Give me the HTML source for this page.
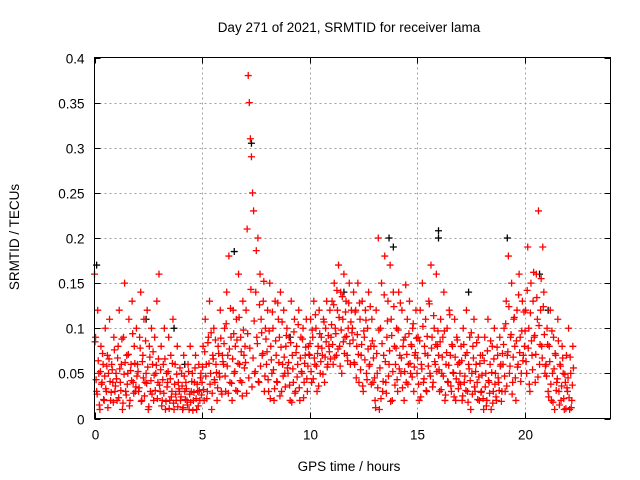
<!DOCTYPE html>
<html><head><meta charset="utf-8"><style>
body{margin:0;background:#fff}
svg{display:block;font-family:"Liberation Sans",sans-serif;font-size:13.5px}
</style></head><body>
<svg id="chart" width="640" height="480">
<text x="349" y="32" text-anchor="middle">Day 271 of 2021, SRMTID for receiver lama</text>
<text x="349" y="471" text-anchor="middle">GPS time / hours</text>
<text transform="translate(19,237) rotate(-90)" text-anchor="middle">SRMTID / TECUs</text>
<g id="grid"></g>
<g id="ticks"></g>
<g id="black"></g>
<g id="red"></g>
<rect x="94.5" y="57.5" width="516" height="361" fill="none" stroke="#000"/>
</svg>
<script>
const xTicks=[0,5,10,15,20];
const yTicks=[0,0.05,0.1,0.15,0.2,0.25,0.3,0.35,0.4];
const yTickLabels=["0","0.05","0.1","0.15","0.2","0.25","0.3","0.35","0.4"];
const redHourly=[
[.16,.09,.03,.12,.05,.01,.08,.04,.06,.02,.1,.03,.07,.05,.11,.02,.06,.04,.09,.03],
[.05,.02,.08,.12,.04,.06,.01,.09,.15,.03,.07,.05,.11,.02,.06,.13,.04,.08,.03,.1],
[.06,.03,.09,.14,.02,.07,.11,.04,.05,.12,.01,.08,.03,.1,.06,.02,.09,.05,.13,.04],
[.16,.03,.08,.02,.06,.1,.01,.05,.04,.09,.02,.07,.03,.11,.01,.06,.02,.08,.04,.03],
[.02,.05,.01,.07,.03,.04,.02,.06,.01,.08,.03,.05,.02,.04,.07,.01,.03,.06,.02,.05],
[.04,.08,.02,.11,.06,.03,.09,.13,.05,.01,.07,.1,.04,.06,.02,.08,.05,.12,.03,.07],
[.06,.1,.03,.14,.07,.18,.04,.09,.02,.12,.05,.08,.11,.03,.16,.06,.09,.04,.13,.07],
[.08,.12,.21,.38,.35,.31,.29,.25,.23,.05,.14,.09,.2,.04,.16,.11,.07,.13,.03,.1],
[.06,.12,.03,.15,.08,.05,.1,.02,.13,.07,.04,.11,.09,.14,.03,.06,.12,.05,.08,.1],
[.05,.09,.02,.13,.07,.04,.11,.03,.08,.06,.12,.02,.09,.05,.1,.04,.07,.11,.03,.08],
[.07,.11,.04,.09,.13,.06,.1,.03,.08,.12,.05,.09,.07,.11,.04,.1,.13,.06,.08,.12],
[.09,.13,.06,.15,.1,.07,.12,.17,.08,.14,.05,.11,.16,.09,.13,.07,.1,.15,.06,.12],
[.1,.14,.06,.12,.08,.15,.04,.11,.07,.13,.03,.09,.12,.05,.1,.14,.06,.08,.11,.04],
[.08,.02,.12,.05,.2,.01,.1,.15,.03,.07,.18,.04,.09,.13,.06,.17,.11,.02,.14,.08],
[.06,.1,.03,.14,.07,.05,.12,.08,.02,.09,.04,.11,.06,.13,.05,.08,.1,.03,.07,.12],
[.05,.09,.02,.12,.06,.15,.04,.08,.11,.03,.07,.13,.05,.17,.09,.04,.1,.06,.16,.08],
[.07,.03,.11,.05,.09,.14,.02,.06,.1,.04,.12,.07,.03,.08,.05,.11,.02,.09,.06,.04],
[.05,.08,.02,.1,.04,.07,.12,.03,.06,.09,.01,.05,.08,.11,.03,.06,.04,.09,.02,.07],
[.03,.07,.01,.09,.05,.02,.11,.04,.06,.01,.08,.03,.1,.05,.02,.07,.04,.09,.06,.03],
[.06,.1,.03,.13,.07,.18,.05,.09,.15,.04,.11,.08,.02,.12,.06,.16,.09,.05,.13,.07],
[.08,.12,.05,.19,.1,.03,.15,.07,.13,.09,.04,.16,.11,.23,.06,.12,.08,.19,.14,.05],
[.06,.1,.03,.08,.12,.02,.05,.09,.01,.07,.04,.11,.03,.06,.02,.08,.05,.01,.04,.07],
[.03,.1,.01,.05,.02,.08]
];
const redHourlyB=[
[.085,.043,.027,.064,.015,.052,.038,.072,.021,.047,.033,.058,.012,.066,.041,.029,.054,.018,.076,.036],
[.044,.067,.023,.055,.031,.088,.017,.049,.062,.026,.038,.071,.014,.053,.042,.094,.028,.061,.035,.047],
[.052,.034,.078,.019,.063,.045,.025,.086,.039,.057,.013,.068,.042,.027,.074,.048,.031,.059,.022,.066],
[.037,.054,.014,.043,.028,.066,.019,.035,.052,.011,.044,.024,.061,.017,.038,.027,.049,.013,.033,.056],
[.024,.036,.012,.047,.021,.033,.015,.052,.027,.018,.041,.009,.029,.056,.022,.038,.014,.031,.045,.026],
[.057,.032,.074,.047,.022,.084,.061,.038,.095,.028,.066,.043,.087,.051,.034,.072,.046,.089,.027,.063],
[.083,.047,.105,.058,.028,.077,.122,.039,.066,.094,.052,.031,.087,.061,.112,.042,.074,.025,.098,.056],
[.062,.028,.094,.045,.078,.143,.035,.067,.108,.052,.186,.083,.041,.126,.058,.095,.072,.152,.047,.088],
[.074,.043,.097,.022,.065,.118,.054,.033,.086,.041,.128,.062,.025,.079,.107,.047,.068,.035,.092,.056],
[.062,.037,.084,.018,.055,.096,.028,.073,.046,.104,.034,.067,.052,.088,.023,.061,.079,.044,.058,.071],
[.083,.052,.098,.044,.067,.115,.058,.072,.036,.094,.063,.078,.049,.107,.068,.085,.057,.092,.074,.066],
[.104,.082,.126,.068,.094,.142,.077,.112,.058,.098,.135,.085,.072,.118,.091,.064,.128,.083,.107,.095],
[.087,.062,.118,.045,.093,.071,.128,.054,.082,.036,.097,.065,.109,.043,.077,.058,.124,.038,.086,.067],
[.045,.012,.072,.034,.098,.056,.022,.083,.041,.137,.063,.028,.108,.047,.075,.019,.092,.052,.124,.037],
[.078,.043,.098,.055,.128,.067,.034,.087,.052,.148,.071,.038,.094,.061,.082,.046,.105,.057,.073,.089],
[.067,.038,.086,.024,.055,.102,.044,.072,.031,.091,.058,.127,.047,.078,.035,.114,.063,.082,.052,.097],
[.054,.085,.032,.068,.047,.097,.026,.073,.041,.059,.115,.036,.082,.051,.024,.068,.044,.087,.033,.062],
[.038,.064,.025,.082,.047,.031,.073,.018,.055,.042,.095,.027,.067,.035,.052,.084,.021,.046,.061,.029],
[.048,.022,.064,.035,.014,.075,.042,.028,.086,.051,.017,.066,.038,.024,.079,.045,.031,.058,.019,.072],
[.082,.047,.105,.036,.074,.124,.058,.093,.027,.068,.112,.045,.086,.057,.137,.073,.041,.097,.064,.118],
[.097,.063,.142,.078,.038,.117,.086,.054,.162,.092,.071,.134,.046,.103,.082,.155,.067,.124,.093,.058],
[.047,.082,.024,.063,.038,.097,.018,.055,.072,.031,.044,.086,.015,.058,.036,.067,.022,.049,.011,.034],
[.045,.023,.068,.012,.037,.056]
];
const blackHours=[0.1,2.4,4.2,6.5,7.3,9.1,11.6,13.7,13.9,16.0,16.0,17.4,19.2,20.7,21.1,3.7];
const blackValues=[0.17,0.11,0.06,0.185,0.305,0.09,0.14,0.2,0.19,0.208,0.2,0.14,0.2,0.16,0.12,0.1];
const X0=94.5,X1=610.5,Y0=418.5,Y1=57.5,XMAX=24,YMAX=0.4;
const sx=v=>X0+v/XMAX*(X1-X0);
const sy=v=>Y0-v/YMAX*(Y0-Y1);
const NS="http://www.w3.org/2000/svg";
const grid=document.getElementById('grid'),ticks=document.getElementById('ticks');
function ln(p,x1,y1,x2,y2,st,dash){const l=document.createElementNS(NS,'line');l.setAttribute('x1',x1);l.setAttribute('y1',y1);l.setAttribute('x2',x2);l.setAttribute('y2',y2);l.setAttribute('stroke',st);if(dash)l.setAttribute('stroke-dasharray',dash);p.appendChild(l);return l;}
xTicks.forEach(t=>{const x=Math.round(sx(t))+0.5;
 if(t>0){const g=ln(grid,x,Y1,x,Y0,'#a0a0a0','2,3');
 
 }
 ln(ticks,x,Y0,x,Y0-6,'#000');ln(ticks,x,Y1,x,Y1+6,'#000');
 const tx=document.createElementNS(NS,'text');tx.setAttribute('x',x);tx.setAttribute('y',Y0+21);tx.setAttribute('text-anchor','middle');tx.textContent=t;
 
 
 ticks.appendChild(tx);});
yTicks.forEach((t,i)=>{const y=Math.round(sy(t))+0.5;
 if(t>0&&t<0.4){const g=ln(grid,X0,y,X1,y,'#a0a0a0','2,3');
 
 }
 ln(ticks,X0,y,X0+6,y,'#000');ln(ticks,X1,y,X1-6,y,'#000');
 const tx=document.createElementNS(NS,'text');tx.setAttribute('x',X0-10);tx.setAttribute('y',y+5);tx.setAttribute('text-anchor','end');tx.textContent=yTickLabels[i];
 
 
 ticks.appendChild(tx);});
function plus(g,h,v,col){const x=sx(h),y=sy(v);const p=document.createElementNS(NS,'path');
 p.setAttribute('d',`M${x-3.5},${y}H${x+3.5}M${x},${y-3.5}V${y+3.5}`);p.setAttribute('stroke',col);p.setAttribute('stroke-width','1.3');p.setAttribute('fill','none');
 
 
 g.appendChild(p);}
const bg=document.getElementById('black'),rg=document.getElementById('red');
blackHours.forEach((h,i)=>plus(bg,h,blackValues[i],'#000'));
redHourly.forEach((arr,hr)=>arr.forEach((v,i)=>plus(rg,hr+i/20,v,'#ff0000')));
redHourlyB.forEach((arr,hr)=>arr.forEach((v,i)=>plus(rg,hr+i/20+0.025,v,'#ff0000')));
</script>
</body></html>
